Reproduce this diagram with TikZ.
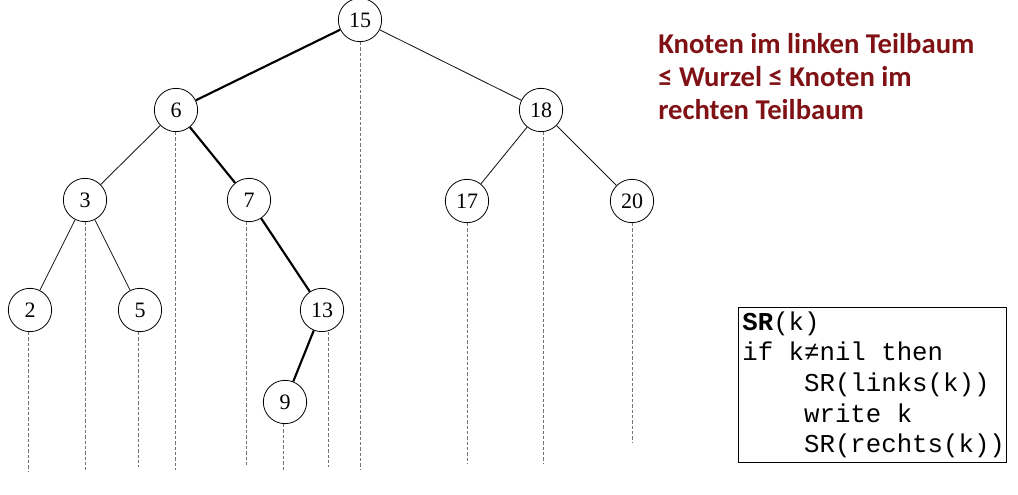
\documentclass[tikz,border=0pt]{standalone}
\usepackage{fontspec}
\setmainfont{Liberation Serif}
\setmonofont{Liberation Mono}
\newfontfamily\hinweisfont{Carlito}
\definecolor{dunkelrot}{RGB}{128,18,22}
\newcommand\leer{\hspace*{0.6em}}
\newcommand\einzug{\hspace*{2.4em}}

\begin{document}
\begin{tikzpicture}[x=0.75pt, y=-0.75pt,
  knoten/.style={draw, circle, minimum size=32.5pt, inner sep=0pt, line width=0.6pt, font=\fontsize{16.5}{16.5}\selectfont},
  kante/.style={line width=0.65pt, draw=black!90},
  pfad/.style={line width=1.6pt},
  strich/.style={dash pattern=on 2.5pt off 1.5pt, draw=black!55, line width=0.55pt}]
  \useasboundingbox (0,0) rectangle (1018,495);
  % Baum
  \node[knoten] (n15) at (360,20) {15};
  \node[knoten] (n6) at (176,110) {6};
  \node[knoten] (n18) at (541,110) {18};
  \node[knoten] (n3) at (85,200) {3};
  \node[knoten] (n7) at (249,200) {7};
  \node[knoten] (n17) at (467,201) {17};
  \node[knoten] (n20) at (632,201) {20};
  \node[knoten] (n2) at (30,310) {2};
  \node[knoten] (n5) at (140,310) {5};
  \node[knoten] (n13) at (322,310) {13};
  \node[knoten] (n9) at (285,402) {9};
  \draw[pfad] (n15) -- (n6);
  \draw[pfad] (n6) -- (n7);
  \draw[pfad] (n7) -- (n13);
  \draw[pfad] (n13) -- (n9);
  \draw[kante] (n15) -- (n18);
  \draw[kante] (n6) -- (n3);
  \draw[kante] (n3) -- (n2);
  \draw[kante] (n3) -- (n5);
  \draw[kante] (n18) -- (n17);
  \draw[kante] (n18) -- (n20);
  % senkrechte Linien
  \foreach \k/\x/\e in {n15/360/470, n6/175/470, n18/543/464, n3/85/470, n7/246/467,
      n17/467/464, n20/632/443, n2/28/471, n5/138/467, n13/328/467, n9/283/470} {
    \coordinate (e\k) at (\x,\e);
    \draw[strich] (\k.south -| e\k) -- (e\k);
  }
  % Text
  \node[anchor=north west, inner sep=0pt, align=left, text=dunkelrot,
    font=\hinweisfont\bfseries\fontsize{21.5}{24.8}\selectfont] (regel) at (658,33)
    {Knoten im linken Teilbaum\\≤ Wurzel ≤ Knoten im\\rechten Teilbaum};
  \node[draw, anchor=north west, line width=0.6pt, inner xsep=3pt, inner ysep=2pt,
    text width=195pt, minimum height=116pt, align=left,
    font=\ttfamily\fontsize{19.3}{23}\selectfont] (code) at (738,307)
    {\textbf{SR}(k)\\if\leer k≠nil\leer then\\\einzug SR(links(k))\\\einzug write\leer k\\\einzug SR(rechts(k))};
\end{tikzpicture}
\end{document}
